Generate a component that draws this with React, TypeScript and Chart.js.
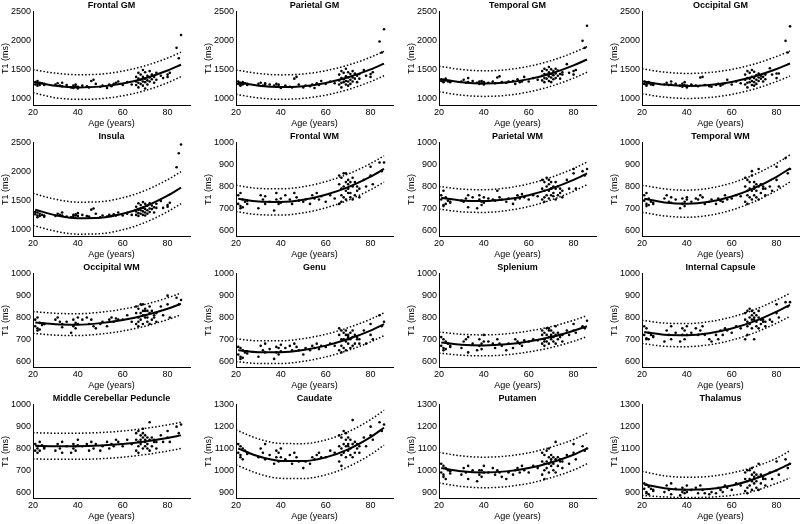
import React, { useEffect, useRef } from 'react';
import { Chart, registerables } from 'chart.js';

Chart.register(...registerables);

// Shared subject ages (same subjects in every panel)
const AGES = [
  21, 21, 22, 22, 22, 23, 23, 24, 25, 25,
  30, 31, 32, 33, 33, 35,
  37, 38, 38, 39, 39, 40, 40,
  42, 44, 45, 46, 47, 48,
  50, 51, 53, 54, 55, 56, 57, 58,
  60, 62, 64,
  66, 66, 66, 67, 67, 67, 67, 68, 68, 68,
  69, 69, 69, 69, 70, 70, 70, 70, 71, 71,
  71, 72, 72, 72, 73, 73, 74, 74, 75, 75,
  77, 78, 80, 80, 81, 84, 85, 86,
];

const FIT_AGES = [21, 30, 40, 50, 60, 70, 80, 86];
const BAND_AGES = [20, 30, 40, 50, 60, 70, 80, 86];

const AGE_TICKS = [20, 40, 60, 80];
const GM_TICKS = [1000, 1500, 2000, 2500];
const WM_TICKS = [600, 700, 800, 900, 1000];
const DEEP_TICKS = [900, 1000, 1100, 1200, 1300];

const TITLES = [
  'Frontal GM', 'Parietal GM', 'Temporal GM', 'Occipital GM',
  'Insula', 'Frontal WM', 'Parietal WM', 'Temporal WM',
  'Occipital WM', 'Genu', 'Splenium', 'Internal Capsule',
  'Middle Cerebellar Peduncle', 'Caudate', 'Putamen', 'Thalamus',
];

// ---- Frontal GM ----
const frontalGM = [
  1290, 1250, 1310, 1260, 1230, 1280, 1240, 1270, 1260, 1240,
  1250, 1270, 1230, 1280, 1220, 1240,
  1200, 1230, 1190, 1220, 1250, 1210, 1180,
  1230, 1220, 1200, 1310, 1330, 1260,
  1210, 1230, 1190, 1250, 1220, 1260, 1280, 1300,
  1240, 1290, 1250,
  1380, 1300, 1240, 1450, 1350, 1280, 1200, 1420, 1330, 1260,
  1500, 1380, 1300, 1230, 1460, 1350, 1290, 1180, 1400, 1320,
  1250, 1480, 1370, 1300, 1420, 1340, 1380, 1280, 1450, 1330,
  1400, 1360, 1420, 1380, 1450, 1880, 1700, 2100,
];
const frontalGMFit = [1290, 1229, 1200, 1213, 1265, 1357, 1490, 1590];
const frontalGMUpper = [1505, 1445, 1418, 1428, 1480, 1572, 1705, 1805];
const frontalGMLower = [1110, 1022, 995, 1005, 1055, 1145, 1280, 1385];

// ---- Parietal GM ----
const parietalGM = [
  1300, 1260, 1280, 1240, 1230, 1290, 1250, 1270, 1260, 1240,
  1260, 1280, 1230, 1270, 1240, 1250,
  1230, 1210, 1260, 1220, 1250, 1200, 1190,
  1230, 1210, 1200, 1350, 1380, 1250,
  1200, 1230, 1220, 1250, 1190, 1270, 1240, 1310,
  1260, 1300, 1270,
  1420, 1320, 1250, 1480, 1360, 1280, 1200, 1450, 1340, 1290,
  1520, 1390, 1310, 1250, 1460, 1370, 1300, 1230, 1430, 1330,
  1260, 1480, 1370, 1300, 1440, 1350, 1400, 1290, 1430, 1350,
  1500, 1400, 1430, 1380, 1460, 1990, 1800, 2200,
];
const parietalGMFit = [1285, 1229, 1205, 1221, 1277, 1373, 1509, 1610];
const parietalGMUpper = [1500, 1440, 1415, 1431, 1487, 1583, 1719, 1820];
const parietalGMLower = [1080, 1019, 995, 1011, 1067, 1163, 1299, 1400];

// ---- Temporal GM ----
const temporalGM = [
  1340, 1310, 1330, 1300, 1290, 1350, 1320, 1300, 1310, 1290,
  1300, 1330, 1280, 1360, 1290, 1310,
  1280, 1300, 1260, 1270, 1310, 1290, 1250,
  1280, 1300, 1270, 1370, 1390, 1290,
  1280, 1300, 1310, 1260, 1340, 1290, 1300, 1380,
  1300, 1360, 1330,
  1480, 1400, 1320, 1520, 1430, 1360, 1290, 1500, 1420, 1350,
  1550, 1460, 1390, 1310, 1510, 1430, 1370, 1290, 1480, 1410,
  1340, 1520, 1440, 1360, 1490, 1400, 1430, 1350, 1460, 1420,
  1600, 1450, 1480, 1420, 1500, 2000, 1880, 2260,
];
const temporalGMFit = [1340, 1287, 1265, 1283, 1342, 1440, 1579, 1680];
const temporalGMUpper = [1565, 1507, 1485, 1503, 1562, 1660, 1799, 1900];
const temporalGMLower = [1125, 1067, 1045, 1063, 1122, 1220, 1359, 1460];

// ---- Occipital GM ----
const occipitalGM = [
  1300, 1260, 1280, 1250, 1230, 1290, 1270, 1250, 1260, 1240,
  1250, 1280, 1240, 1300, 1250, 1260,
  1230, 1260, 1210, 1240, 1290, 1230, 1200,
  1250, 1230, 1220, 1370, 1380, 1240,
  1220, 1210, 1240, 1260, 1230, 1250, 1270, 1330,
  1250, 1300, 1270,
  1420, 1330, 1250, 1480, 1360, 1280, 1200, 1450, 1350, 1290,
  1500, 1380, 1310, 1240, 1470, 1360, 1290, 1230, 1410, 1330,
  1260, 1440, 1370, 1310, 1400, 1350, 1380, 1300, 1420, 1340,
  1530, 1420, 1440, 1360, 1440, 2000, 1800, 2250,
];
const occipitalGMFit = [1300, 1248, 1225, 1241, 1294, 1386, 1516, 1610];
const occipitalGMUpper = [1520, 1463, 1440, 1456, 1509, 1601, 1731, 1825];
const occipitalGMLower = [1090, 1033, 1010, 1026, 1079, 1171, 1301, 1395];

// ---- Insula ----
const insula = [
  1310, 1270, 1300, 1250, 1220, 1280, 1240, 1260, 1250, 1230,
  1240, 1280, 1260, 1300, 1250, 1230,
  1220, 1260, 1230, 1250, 1270, 1240, 1290,
  1260, 1240, 1230, 1350, 1370, 1280,
  1220, 1250, 1230, 1260, 1240, 1270, 1250, 1300,
  1250, 1280, 1260,
  1400, 1320, 1260, 1460, 1350, 1290, 1240, 1430, 1340, 1280,
  1480, 1380, 1320, 1260, 1450, 1360, 1300, 1250, 1420, 1340,
  1280, 1460, 1370, 1310, 1420, 1360, 1390, 1300, 1450, 1380,
  1500, 1380, 1430, 1400, 1470, 2080, 2320, 2470,
];
const insulaFit = [1350, 1254, 1204, 1212, 1279, 1405, 1590, 1728];
const insulaUpper = [1630, 1529, 1479, 1487, 1554, 1680, 1865, 2003];
const insulaLower = [1080, 979, 929, 937, 1004, 1130, 1315, 1453];

// ---- Frontal WM ----
const frontalWM = [
  760, 720, 770, 700, 710, 740, 705, 730, 735, 720,
  700, 760, 740, 755, 720, 730,
  690, 770, 740, 730, 720, 745, 725,
  760, 740, 720, 770, 750, 735,
  730, 740, 720, 760, 745, 770, 740, 755,
  730, 760, 745,
  850, 810, 720, 840, 790, 760, 730, 860, 800, 750,
  820, 780, 740, 860, 810, 770, 830, 790, 750, 820,
  770, 740, 840, 800, 760, 820, 780, 800, 750, 790,
  830, 800, 890, 850, 810, 910, 870, 910,
];
const frontalWMFit = [744, 731, 729, 739, 762, 797, 845, 880];
const frontalWMUpper = [805, 791, 789, 799, 822, 857, 905, 940];
const frontalWMLower = [685, 671, 669, 679, 702, 737, 785, 820];

// ---- Parietal WM ----
const parietalWM = [
  760, 740, 780, 715, 710, 750, 720, 735, 730, 725,
  735, 730, 745, 760, 705, 750,
  700, 760, 740, 730, 715, 750, 725,
  745, 740, 735, 780, 750, 740,
  730, 745, 720, 740, 760, 745, 765, 750,
  740, 760, 755,
  830, 790, 740, 820, 780, 750, 730, 840, 800, 760,
  810, 780, 745, 830, 790, 760, 820, 790, 755, 800,
  770, 740, 820, 790, 760, 800, 770, 790, 750, 780,
  830, 790, 880, 860, 790, 870, 850, 880,
];
const parietalWMFit = [748, 736, 733, 741, 760, 790, 830, 860];
const parietalWMUpper = [800, 788, 785, 793, 812, 842, 882, 912];
const parietalWMLower = [696, 684, 681, 689, 708, 738, 778, 808];

// ---- Temporal WM ----
const temporalWM = [
  760, 735, 770, 710, 720, 745, 715, 730, 725, 720,
  745, 760, 730, 750, 725, 740,
  700, 745, 720, 730, 710, 750, 740,
  730, 745, 740, 760, 750, 720,
  730, 740, 720, 745, 735, 730, 760, 740,
  745, 760, 755,
  840, 800, 730, 830, 780, 760, 720, 820, 790, 750,
  870, 780, 740, 850, 800, 760, 820, 790, 750, 810,
  780, 740, 880, 800, 770, 810, 790, 800, 760, 790,
  800, 780, 890, 830, 800, 930, 860, 880,
];
const temporalWMFit = [744, 727, 721, 730, 754, 792, 844, 883];
const temporalWMUpper = [806, 789, 783, 792, 816, 854, 906, 945];
const temporalWMLower = [682, 665, 659, 668, 692, 730, 782, 821];

// ---- Occipital WM ----
const occipitalWM = [
  790, 760, 800, 740, 750, 775, 745, 765, 770, 770,
  790, 800, 780, 770, 755, 780,
  730, 790, 760, 775, 750, 800, 770,
  790, 800, 770, 790, 760, 750,
  770, 780, 760, 790, 800, 780, 795, 790,
  790, 810, 780,
  850, 820, 770, 840, 800, 780, 760, 860, 820, 790,
  830, 810, 770, 860, 830, 800, 840, 810, 780, 830,
  800, 770, 850, 820, 790, 830, 800, 810, 780, 820,
  850, 810, 900, 860, 800, 890, 860, 880,
];
const occipitalWMFit = [777, 769, 767, 774, 788, 810, 840, 862];
const occipitalWMUpper = [827, 819, 817, 824, 838, 860, 890, 912];
const occipitalWMLower = [727, 719, 717, 724, 738, 760, 790, 812];

// ---- Genu ----
const genu = [
  665, 630, 660, 610, 620, 650, 615, 640, 645, 635,
  620, 670, 650, 680, 640, 655,
  610, 665, 640, 660, 630, 675, 645,
  660, 670, 650, 680, 665, 650,
  630, 660, 650, 670, 660, 680, 655, 670,
  665, 680, 670,
  750, 720, 650, 740, 700, 670, 640, 730, 700, 660,
  720, 690, 650, 740, 710, 680, 720, 700, 660, 730,
  700, 670, 740, 710, 680, 720, 700, 710, 680, 700,
  740, 680, 770, 720, 700, 810, 760, 780,
];
const genuFit = [650, 641, 641, 651, 671, 701, 740, 769];
const genuUpper = [702, 693, 693, 703, 723, 753, 792, 821];
const genuLower = [598, 589, 589, 599, 619, 649, 688, 717];

// ---- Splenium ----
const splenium = [
  710, 670, 700, 660, 650, 690, 655, 680, 665, 670,
  660, 690, 700, 710, 640, 680,
  650, 700, 670, 680, 655, 720, 690,
  690, 680, 660, 700, 680, 670,
  650, 680, 660, 700, 690, 680, 670, 695,
  690, 700, 695,
  740, 720, 680, 730, 700, 690, 670, 750, 720, 690,
  740, 710, 680, 750, 720, 700, 740, 710, 690, 730,
  710, 680, 760, 720, 700, 730, 710, 720, 690, 720,
  740, 720, 770, 740, 730, 760, 750, 785,
];
const spleniumFit = [685, 675, 672, 677, 690, 710, 739, 760];
const spleniumUpper = [733, 723, 720, 725, 738, 758, 787, 808];
const spleniumLower = [637, 627, 624, 629, 642, 662, 691, 712];

// ---- Internal Capsule ----
const internalCapsule = [
  760, 720, 750, 700, 705, 730, 700, 720, 715, 710,
  690, 740, 720, 760, 700, 730,
  690, 750, 720, 740, 700, 760, 720,
  730, 750, 720, 740, 760, 720,
  700, 690, 720, 700, 740, 720, 750, 740,
  730, 760, 750,
  820, 790, 700, 830, 780, 760, 720, 840, 800, 770,
  810, 790, 750, 830, 800, 700, 820, 790, 760, 810,
  780, 750, 830, 800, 770, 790, 780, 790, 760, 780,
  790, 780, 860, 820, 800, 870, 850, 870,
];
const internalCapsuleFit = [733, 721, 719, 728, 749, 782, 827, 858];
const internalCapsuleUpper = [787, 774, 772, 781, 802, 835, 880, 911];
const internalCapsuleLower = [681, 668, 666, 675, 696, 729, 774, 805];

// ---- Middle Cerebellar Peduncle ----
const mcp = [
  820, 790, 810, 780, 800, 830, 790, 815, 805, 800,
  790, 820, 800, 830, 780, 810,
  780, 820, 800, 810, 790, 840, 815,
  810, 820, 790, 830, 800, 820,
  790, 810, 830, 800, 820, 810, 840, 830,
  810, 840, 820,
  870, 840, 790, 880, 830, 810, 780, 860, 840, 820,
  870, 850, 800, 890, 840, 810, 860, 830, 800, 850,
  820, 790, 920, 840, 810, 850, 830, 840, 800, 830,
  860, 830, 880, 850, 830, 900, 870, 910,
];
const mcpFit = [812, 810, 810, 813, 820, 832, 848, 860];
const mcpUpper = [872, 870, 870, 873, 880, 892, 908, 920];
const mcpLower = [752, 750, 750, 753, 760, 772, 788, 800];

// ---- Caudate ----
const caudate = [
  1120, 1080, 1110, 1060, 1070, 1100, 1050, 1090, 1080, 1075,
  1060, 1100, 1080, 1120, 1050, 1070,
  1030, 1090, 1060, 1080, 1040, 1100, 1060,
  1050, 1070, 1030, 1080, 1060, 1040,
  1010, 1040, 1030, 1060, 1050, 1070, 1080, 1060,
  1060, 1090, 1080,
  1160, 1110, 1040, 1150, 1100, 1070, 1020, 1180, 1120, 1080,
  1140, 1110, 1060, 1170, 1120, 1090, 1150, 1110, 1070, 1140,
  1100, 1060, 1230, 1120, 1080, 1130, 1100, 1120, 1080, 1110,
  1150, 1110, 1200, 1160, 1140, 1220, 1180, 1210,
];
const caudateFit = [1100, 1064, 1043, 1042, 1059, 1096, 1152, 1195];
const caudateUpper = [1185, 1144, 1123, 1122, 1139, 1176, 1232, 1275];
const caudateLower = [1025, 984, 963, 962, 979, 1016, 1072, 1115];

// ---- Putamen ----
const putamen = [
  1030, 990, 1020, 970, 980, 1010, 960, 1000, 995, 985,
  980, 1010, 990, 1020, 960, 1000,
  950, 1000, 980, 1000, 970, 1020, 990,
  990, 1010, 980, 1000, 990, 970,
  960, 990, 980, 1000, 1010, 990, 1020, 1000,
  990, 1020, 1010,
  1080, 1040, 980, 1070, 1030, 1000, 960, 1090, 1040, 1010,
  1060, 1030, 990, 1100, 1050, 1020, 1070, 1040, 1000, 1060,
  1030, 990, 1130, 1050, 1020, 1060, 1040, 1050, 1010, 1040,
  1070, 1030, 1120, 1080, 1050, 1110, 1090, 1100,
];
const putamenFit = [1010, 996, 990, 995, 1010, 1036, 1071, 1100];
const putamenUpper = [1082, 1066, 1060, 1065, 1080, 1106, 1141, 1170];
const putamenLower = [942, 926, 920, 925, 940, 966, 1001, 1030];

// ---- Thalamus ----
const thalamus = [
  940, 915, 935, 895, 900, 925, 890, 915, 910, 905,
  900, 930, 910, 940, 890, 915,
  885, 920, 900, 910, 895, 930, 900,
  910, 920, 895, 930, 910, 895,
  890, 900, 895, 920, 910, 900, 930, 920,
  910, 940, 930,
  990, 960, 905, 1000, 950, 920, 895, 1000, 960, 930,
  980, 950, 910, 1010, 970, 940, 990, 960, 920, 980,
  950, 910, 1030, 970, 940, 980, 960, 970, 930, 960,
  990, 960, 1040, 1000, 980, 1050, 1010, 1030,
];
const thalamusFit = [935, 918, 911, 914, 930, 960, 1000, 1030];
const thalamusUpper = [995, 975, 968, 972, 988, 1015, 1055, 1090];
const thalamusLower = [885, 878, 875, 877, 885, 905, 940, 965];

type PanelCfg = {
  title: string;
  values: number[];
  fit: number[];
  upper: number[];
  lower: number[];
  ticks: number[];
  yMin: number;
  yMax: number;
};

const GM_RANGE = [897, 2500];
const WM_RANGE = [573, 1000];
const DEEP_RANGE = [873, 1300];

const SERIES: [number[], number[], number[], number[], number[], number[]][] = [
  [frontalGM, frontalGMFit, frontalGMUpper, frontalGMLower, GM_TICKS, GM_RANGE],
  [parietalGM, parietalGMFit, parietalGMUpper, parietalGMLower, GM_TICKS, GM_RANGE],
  [temporalGM, temporalGMFit, temporalGMUpper, temporalGMLower, GM_TICKS, GM_RANGE],
  [occipitalGM, occipitalGMFit, occipitalGMUpper, occipitalGMLower, GM_TICKS, GM_RANGE],
  [insula, insulaFit, insulaUpper, insulaLower, GM_TICKS, GM_RANGE],
  [frontalWM, frontalWMFit, frontalWMUpper, frontalWMLower, WM_TICKS, WM_RANGE],
  [parietalWM, parietalWMFit, parietalWMUpper, parietalWMLower, WM_TICKS, WM_RANGE],
  [temporalWM, temporalWMFit, temporalWMUpper, temporalWMLower, WM_TICKS, WM_RANGE],
  [occipitalWM, occipitalWMFit, occipitalWMUpper, occipitalWMLower, WM_TICKS, WM_RANGE],
  [genu, genuFit, genuUpper, genuLower, WM_TICKS, WM_RANGE],
  [splenium, spleniumFit, spleniumUpper, spleniumLower, WM_TICKS, WM_RANGE],
  [internalCapsule, internalCapsuleFit, internalCapsuleUpper, internalCapsuleLower, WM_TICKS, WM_RANGE],
  [mcp, mcpFit, mcpUpper, mcpLower, WM_TICKS, WM_RANGE],
  [caudate, caudateFit, caudateUpper, caudateLower, DEEP_TICKS, DEEP_RANGE],
  [putamen, putamenFit, putamenUpper, putamenLower, DEEP_TICKS, DEEP_RANGE],
  [thalamus, thalamusFit, thalamusUpper, thalamusLower, DEEP_TICKS, DEEP_RANGE],
];

const PANELS: PanelCfg[] = SERIES.map(([values, fit, upper, lower, ticks, range], i) => ({
  title: TITLES[i],
  values,
  fit,
  upper,
  lower,
  ticks,
  yMin: range[0],
  yMax: range[1],
}));

const FAMILY = '"Liberation Sans", Arial, Helvetica, sans-serif';
const PANEL_W = 203;
const PANEL_H = 131;

function Panel({ cfg, index }: { cfg: PanelCfg; index: number }) {
  const ref = useRef<HTMLCanvasElement>(null);
  useEffect(() => {
    const canvas = ref.current;
    if (!canvas) return;
    const tickFont = { family: FAMILY, size: 9 };
    const labelFont = { family: FAMILY, size: 9 };
    const plain = (v: any) => String(v);
    const chart = new Chart(canvas, {
      type: 'scatter',
      data: {
        datasets: [
          {
            data: cfg.values.map((v, i) => ({ x: AGES[i], y: v })),
            showLine: false,
            pointRadius: 1.3,
            pointBackgroundColor: '#000',
            pointBorderWidth: 0,
            borderColor: '#000',
          },
          {
            data: cfg.fit.map((v, i) => ({ x: FIT_AGES[i], y: v })),
            showLine: true,
            borderColor: '#000',
            borderWidth: 2,
            pointRadius: 0,
            cubicInterpolationMode: 'monotone',
          },
          {
            data: cfg.upper.map((v, i) => ({ x: BAND_AGES[i], y: v })),
            showLine: true,
            borderColor: '#000',
            borderWidth: 1.5,
            borderDash: [1.5, 2],
            pointRadius: 0,
            cubicInterpolationMode: 'monotone',
          },
          {
            data: cfg.lower.map((v, i) => ({ x: BAND_AGES[i], y: v })),
            showLine: true,
            borderColor: '#000',
            borderWidth: 1.5,
            borderDash: [1.5, 2],
            pointRadius: 0,
            cubicInterpolationMode: 'monotone',
          },
        ],
      } as any,
      options: {
        animation: false,
        responsive: false,
        maintainAspectRatio: false,
        events: [],
        layout: { padding: { left: 0, right: 13, top: 0, bottom: 0 } },
        plugins: {
          legend: { display: false },
          tooltip: { enabled: false },
          title: {
            display: true,
            text: cfg.title,
            fullSize: false,
            color: '#000',
            font: { family: FAMILY, size: 9, weight: 'bold', lineHeight: 1.2 },
            padding: { top: 0, bottom: 1 },
          },
        },
        scales: {
          x: {
            type: 'linear',
            min: 20,
            max: 90,
            afterBuildTicks: (s: any) => {
              s.ticks = AGE_TICKS.map((v) => ({ value: v }));
            },
            afterFit: (s: any) => {
              s.height = 26;
            },
            grid: { display: false, drawTicks: false },
            border: { display: true, color: '#000', width: 1 },
            ticks: { color: '#000', font: tickFont, padding: 2, maxRotation: 0, autoSkip: false, callback: plain },
            title: {
              display: true,
              text: 'Age (years)',
              color: '#000',
              font: labelFont,
              padding: { top: 0, bottom: 2 },
            },
          },
          y: {
            type: 'linear',
            min: cfg.yMin,
            max: cfg.yMax,
            afterBuildTicks: (s: any) => {
              s.ticks = cfg.ticks.map((v) => ({ value: v }));
            },
            afterFit: (s: any) => {
              s.width = 33;
            },
            grid: { display: false, drawTicks: false },
            border: { display: true, color: '#000', width: 1 },
            ticks: { color: '#000', font: tickFont, padding: 2, autoSkip: false, callback: plain },
            title: {
              display: true,
              text: 'T1 (ms)',
              color: '#000',
              font: labelFont,
              padding: { top: 0, bottom: 0 },
            },
          },
        },
      } as any,
    });
    return () => chart.destroy();
  }, [cfg]);
  const col = index % 4;
  const row = Math.floor(index / 4);
  return (
    <canvas
      ref={ref}
      width={PANEL_W}
      height={PANEL_H}
      style={{ position: 'absolute', left: col * PANEL_W, top: row * PANEL_H, display: 'block' }}
    />
  );
}

export default function App() {
  useEffect(() => {
    document.body.style.margin = '0';
    document.body.style.background = '#fff';
  }, []);
  return (
    <div style={{ position: 'relative', width: 800, height: 524, overflow: 'hidden', background: '#fff' }}>
      {PANELS.map((cfg, i) => (
        <Panel key={i} cfg={cfg} index={i} />
      ))}
    </div>
  );
}
